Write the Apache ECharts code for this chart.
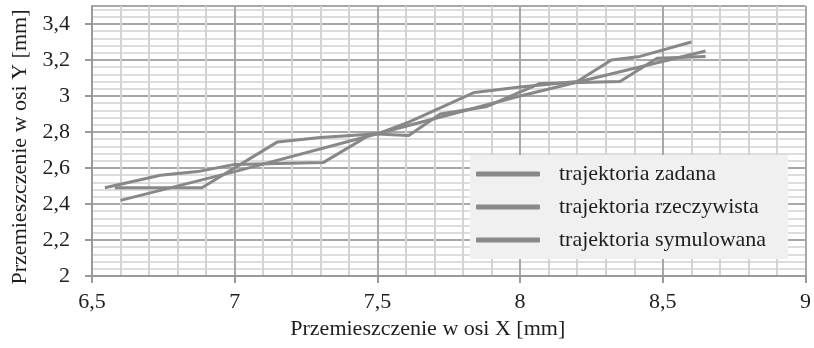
<!DOCTYPE html>
<html>
<head>
<meta charset="utf-8">
<script src="https://cdn.jsdelivr.net/npm/echarts@6/dist/echarts.min.js"></script>
<style>
  html, body { margin: 0; padding: 0; background: #fff; }
  #chart { width: 814px; height: 348px; }
</style>
</head>
<body>
<div id="chart"></div>
<script>
// Trajectories in the XY plane, [x mm, y mm]
const seriesNames = ['trajektoria zadana', 'trajektoria rzeczywista', 'trajektoria symulowana'];

const trajZadana = [
  [6.545, 2.49], [6.74, 2.56], [6.87, 2.58], [7.0, 2.62], [7.31, 2.63],
  [7.48, 2.79], [7.61, 2.78], [7.72, 2.90], [7.88, 2.94], [8.07, 3.07],
  [8.35, 3.08], [8.48, 3.21], [8.65, 3.22]
];
const trajRzeczywista = [
  [6.58, 2.49], [6.885, 2.49], [7.15, 2.745], [7.3, 2.77], [7.5, 2.79],
  [7.61, 2.855], [7.84, 3.02], [8.0, 3.05], [8.2, 3.08], [8.32, 3.2],
  [8.42, 3.22], [8.6, 3.30]
];
const trajSymulowana = [
  [6.6, 2.42], [7.0, 2.58], [7.5, 2.79], [8.0, 3.0], [8.65, 3.25]
];

const xTicks = { min: 6.5, max: 9, step: 0.5 };
const yTicks = { min: 2, max: 3.5, step: 0.2 };

const axisName = {
  x: 'Przemieszczenie w osi X [mm]',
  y: 'Przemieszczenie w osi Y [mm]'
};

const FONT = 'Liberation Serif';
const FS = 22;
const textColor = '#1e1e1e';
const lineColor = '#888888';
const commaFmt = v => String(Math.round(v * 100) / 100).replace('.', ',');

const chart = echarts.init(document.getElementById('chart'), null, { renderer: 'canvas' });

const mkSeries = (name, data) => ({
  name, type: 'line', data,
  symbol: 'none',
  lineStyle: { color: lineColor, width: 3 },
  itemStyle: { color: lineColor },
  z: 3
});

chart.setOption({
  animation: false,
  backgroundColor: '#ffffff',
  grid: { left: 92, right: 7, top: 6, bottom: 72 },
  xAxis: {
    type: 'value',
    min: xTicks.min, max: xTicks.max, interval: xTicks.step,
    name: axisName.x, nameLocation: 'middle', nameGap: 42,
    nameTextStyle: { fontFamily: FONT, fontSize: FS, color: textColor, padding: [0, 42, 0, 0] },
    axisLine: { show: true, lineStyle: { color: '#9a9a9a', width: 2 } },
    axisTick: { show: true, length: 7, lineStyle: { color: '#9a9a9a', width: 2 } },
    minorTick: { show: false, splitNumber: 5 },
    axisLabel: { margin: 15, fontFamily: FONT, fontSize: FS, color: textColor, formatter: commaFmt },
    splitLine: { show: true, lineStyle: { color: '#a8a8a8', width: 2 } },
    minorSplitLine: { show: true, lineStyle: { color: '#d2d2d2', width: 2 } }
  },
  yAxis: {
    type: 'value',
    min: yTicks.min, max: yTicks.max, interval: yTicks.step,
    name: axisName.y, nameLocation: 'middle', nameGap: 60,
    nameTextStyle: { fontFamily: FONT, fontSize: FS, color: textColor, padding: [0, 12, 0, 0] },
    axisLine: { show: true, lineStyle: { color: '#9a9a9a', width: 2 } },
    axisTick: { show: true, length: 7, lineStyle: { color: '#9a9a9a', width: 2 } },
    minorTick: { show: false, splitNumber: 5 },
    axisLabel: { margin: 22, fontFamily: FONT, fontSize: FS, color: textColor, formatter: commaFmt, showMaxLabel: false },
    splitLine: { show: true, lineStyle: { color: '#a8a8a8', width: 2 } },
    minorSplitLine: { show: true, lineStyle: { color: '#d2d2d2', width: 1.5 } }
  },
  legend: {
    orient: 'vertical',
    left: 470, top: 155,
    padding: [8, 22, 8, 6],
    backgroundColor: '#f0f0f0',
    itemWidth: 64, itemHeight: 5, itemGap: 11,
    icon: 'roundRect',
    textStyle: { fontFamily: FONT, fontSize: FS, color: textColor, lineHeight: 22, padding: [0, 0, 0, 14] },
    data: seriesNames
  },
  series: [
    mkSeries(seriesNames[0], trajZadana),
    mkSeries(seriesNames[1], trajRzeczywista),
    mkSeries(seriesNames[2], trajSymulowana)
  ]
});
</script>
</body>
</html>
